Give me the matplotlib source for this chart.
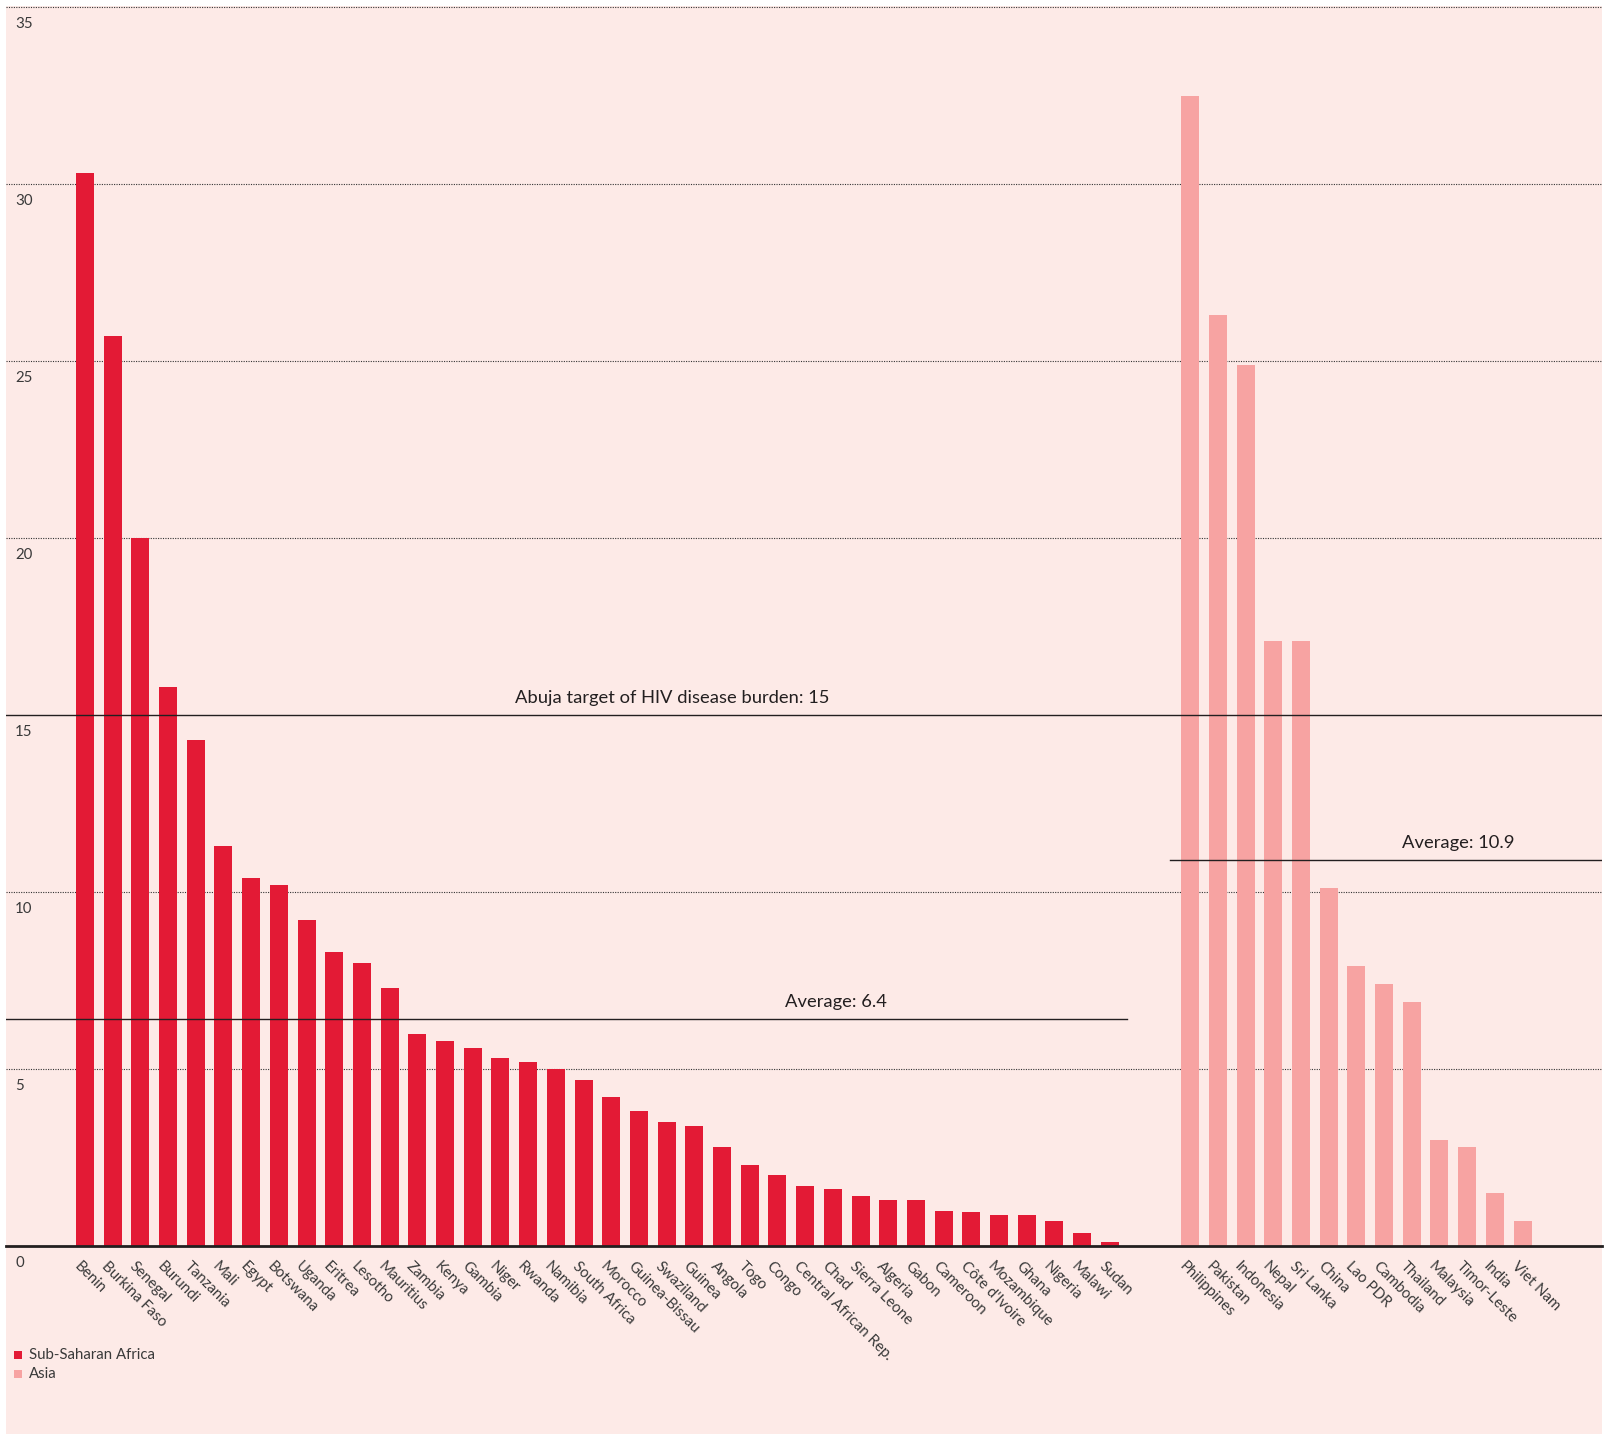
import matplotlib
matplotlib.use("Agg")
import matplotlib.pyplot as plt
from matplotlib.patches import Rectangle
import numpy as np

# ---------------- data ----------------
africa_countries = ["Benin", "Burkina Faso", "Senegal", "Burundi", "Tanzania", "Mali", "Egypt",
                    "Botswana", "Uganda", "Eritrea", "Lesotho", "Mauritius", "Zambia", "Kenya",
                    "Gambia", "Niger", "Rwanda", "Namibia", "South Africa", "Morocco",
                    "Guinea-Bissau", "Swaziland", "Guinea", "Angola", "Togo", "Congo",
                    "Central African Rep.", "Chad", "Sierra Leone", "Algeria", "Gabon",
                    "Cameroon", "Côte d'Ivoire", "Mozambique", "Ghana", "Nigeria", "Malawi", "Sudan"]
africa_values = [30.3, 25.7, 20.0, 15.8, 14.3, 11.3, 10.4, 10.2, 9.2, 8.3, 8.0, 7.3, 6.0, 5.8,
                 5.6, 5.3, 5.2, 5.0, 4.7, 4.2, 3.8, 3.5, 3.4, 2.8, 2.3, 2.0, 1.7, 1.6, 1.4,
                 1.3, 1.3, 1.0, 0.95, 0.88, 0.88, 0.7, 0.37, 0.1]

asia_countries = ["Philippines", "Pakistan", "Indonesia", "Nepal", "Sri Lanka", "China", "Lao PDR",
                  "Cambodia", "Thailand", "Malaysia", "Timor-Leste", "India", "Viet Nam"]
asia_values = [32.5, 26.3, 24.9, 17.1, 17.1, 10.1, 7.9, 7.4, 6.9, 3.0, 2.8, 1.5, 0.7]

africa_average = 6.4
asia_average = 10.9
abuja_target = 15
y_ticks = [0, 5, 10, 15, 20, 25, 30, 35]
series_names = ["Sub-Saharan Africa", "Asia"]

# ---------------- style ----------------
BG = "#FDEAE7"
RED = "#E31A35"
PINK = "#F7A3A2"
DARK = "#231F20"
TXT = "#3A3A3A"
plt.rcParams["font.family"] = ["Lato", "DejaVu Sans"]

W, H, DPI = 1608, 1434, 100
fig = plt.figure(figsize=(W / DPI, H / DPI), dpi=DPI)
fig.patch.set_facecolor("white")

# pink panel (background axes)
bg = fig.add_axes([6 / W, 0, 1596 / W, 1428 / H], zorder=-10)
bg.set_facecolor(BG)
bg.set_axis_off()
bg.add_patch(Rectangle((0, 0), 1, 1, transform=bg.transAxes, facecolor=BG, edgecolor="none"))

# axes: x from px 6..1602, y from px 6 (top) .. 1246 (zero)
ax = fig.add_axes([6 / W, (H - 1246) / H, 1596 / W, (1246 - 6) / H], zorder=1)
ax.set_facecolor("none")
for s in ax.spines.values():
    s.set_visible(False)
ax.set_xticks([])
ax.set_yticks([])

n_af = len(africa_values)
x_af = np.arange(n_af)
asia_start = n_af - 1 + 2.9
x_as = asia_start + np.arange(len(asia_values))

ax.set_xlim(-2.85, 54.77)
ax.set_ylim(0, 35.03)

# dotted gridlines
for v in y_ticks:
    if v in (0, abuja_target):
        continue
    ax.axhline(v, color="#333333", lw=0.8, ls=(0, (1, 1.2)), zorder=1)

bw = 0.65
ax.bar(x_af, africa_values, width=bw, color=RED, zorder=2, label=series_names[0])
ax.bar(x_as, asia_values, width=bw, color=PINK, zorder=2, label=series_names[1])

# baseline
ax.axhline(0, color=DARK, lw=2.0, zorder=4, clip_on=False)

# Abuja target line
ax.axhline(abuja_target, color=DARK, lw=1.0, zorder=3)
ax.annotate("Abuja target of HIV disease burden: 15", xy=(21.2, abuja_target),
            xytext=(0, 17), textcoords="offset pixels", ha="center", va="center",
            fontsize=13.2, color=DARK)

# averages
ax.plot([-2.85, n_af - 1 + 0.62], [africa_average] * 2, color=DARK, lw=1.0, zorder=3)
ax.annotate(f"Average: {africa_average}", xy=(27.1, africa_average), xytext=(0, 17),
            textcoords="offset pixels", ha="center", va="center", fontsize=13.2, color=DARK)
ax.plot([asia_start - 0.73, 54.77], [asia_average] * 2, color=DARK, lw=1.0, zorder=3)
ax.annotate(f"Average: {asia_average}", xy=(49.57, asia_average), xytext=(0, 17),
            textcoords="offset pixels", ha="center", va="center", fontsize=13.2, color=DARK)

# y labels (inside, below each line)
for v in y_ticks:
    ax.annotate(str(v), xy=(0, v), xycoords=("axes fraction", "data"), xytext=(9, -17),
                textcoords="offset pixels", ha="left", va="center", fontsize=10.8,
                color=TXT, annotation_clip=False)

# country labels
for xi, name in list(zip(x_af, africa_countries)) + list(zip(x_as, asia_countries)):
    ax.annotate(name, xy=(xi, 0), xytext=(-4, -13), textcoords="offset pixels",
                rotation=-45, rotation_mode="anchor", ha="left", va="top",
                fontsize=10.8, color=TXT, annotation_clip=False)

# legend
for k, (name, col) in enumerate(zip(series_names, [RED, PINK])):
    yc = 1355 + k * 19
    fig.patches.append(Rectangle((14 / W, (H - yc - 4) / H), 8 / W, 8 / H,
                                 transform=fig.transFigure, facecolor=col, edgecolor="none",
                                 zorder=5))
    fig.text(29 / W, (H - yc) / H, name, ha="left", va="center", fontsize=10.8, color=TXT,
             zorder=5)

fig.savefig("out.png", dpi=DPI, facecolor=fig.get_facecolor())
